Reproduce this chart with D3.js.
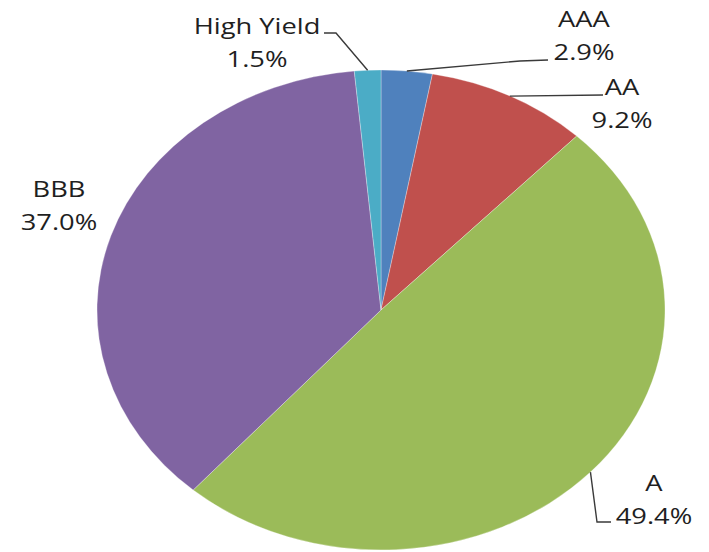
<!DOCTYPE html>
<html>
<head>
<meta charset="utf-8">
<script src="https://cdn.jsdelivr.net/npm/d3@7"></script>
<style>
  html, body { margin: 0; padding: 0; background: #fff; }
  svg { display: block; }
  text { font-family: "Open Sans", "DejaVu Sans", sans-serif; fill: #1f1f1f; }
</style>
</head>
<body>
<svg id="chart" width="709" height="552"></svg>
<script>
// Credit-quality breakdown, clockwise from 12 o'clock
const categories = ["AAA", "AA", "A", "BBB", "High Yield"];
const shares = [2.9, 9.2, 49.4, 37.0, 1.5];
const sliceColors = ["#4F81BD", "#C0504D", "#9BBB59", "#8064A2", "#4BACC6"];
const shareLabels = ["2.9%", "9.2%", "49.4%", "37.0%", "1.5%"];

// Layout of the label blocks: centre x and first baseline, plus leader elbows
const labelLayout = {
  "AAA":        { x: 584, y: 27,  leader: [[520, 61], [548, 60]] },
  "AA":         { x: 622, y: 95,  leader: [[603, 95]] },
  "A":          { x: 654, y: 491, leader: [[597, 522], [611, 522]] },
  "BBB":        { x: 59,  y: 197, leader: null },
  "High Yield": { x: 257, y: 34,  leader: [[336, 33], [324, 33]] }
};

const width = 709, height = 552;
const cx = 381, cy = 310;
const ry = 240, rx = 284;          // the pie is drawn as an ellipse
const sx = rx / ry;
const textScale = 1.3, lineGap = 33;

const svg = d3.select("#chart");

const data = categories.map((c, i) => ({ cat: c, value: shares[i], color: sliceColors[i], label: shareLabels[i] }));

const pie = d3.pie().sort(null).value(d => d.value);
const arcs = pie(data);
const arc = d3.arc().innerRadius(0).outerRadius(ry);

const pieG = svg.append("g").attr("transform", `translate(${cx},${cy}) scale(${sx},1)`);
pieG.selectAll("path")
  .data(arcs)
  .join("path")
  .attr("d", arc)
  .attr("fill", d => d.data.color)
  .attr("stroke", "#ffffff")
  .attr("stroke-opacity", 0.6)
  .attr("stroke-width", 0.5)
  .attr("vector-effect", "non-scaling-stroke");

// Point on the ellipse rim at a slice's mid angle
function rimPoint(d) {
  const a = (d.startAngle + d.endAngle) / 2;
  return [cx + rx * Math.sin(a), cy - ry * Math.cos(a)];
}

const line = d3.line();
const labelG = svg.append("g");

arcs.forEach(d => {
  const lay = labelLayout[d.data.cat];
  if (lay.leader) {
    const pts = [rimPoint(d), ...lay.leader];
    labelG.append("path")
      .attr("d", line(pts))
      .attr("fill", "none")
      .attr("stroke", "#3a3a3a")
      .attr("stroke-width", 1.4);
  }
  const lines = [d.data.cat, d.data.label];
  lines.forEach((t, i) => {
    labelG.append("text")
      .attr("transform", `translate(${lay.x},${lay.y + i * lineGap}) scale(${textScale},1)`)
      .attr("text-anchor", "middle")
      .attr("font-size", 21)
      .text(t);
  });
});
</script>
</body>
</html>
